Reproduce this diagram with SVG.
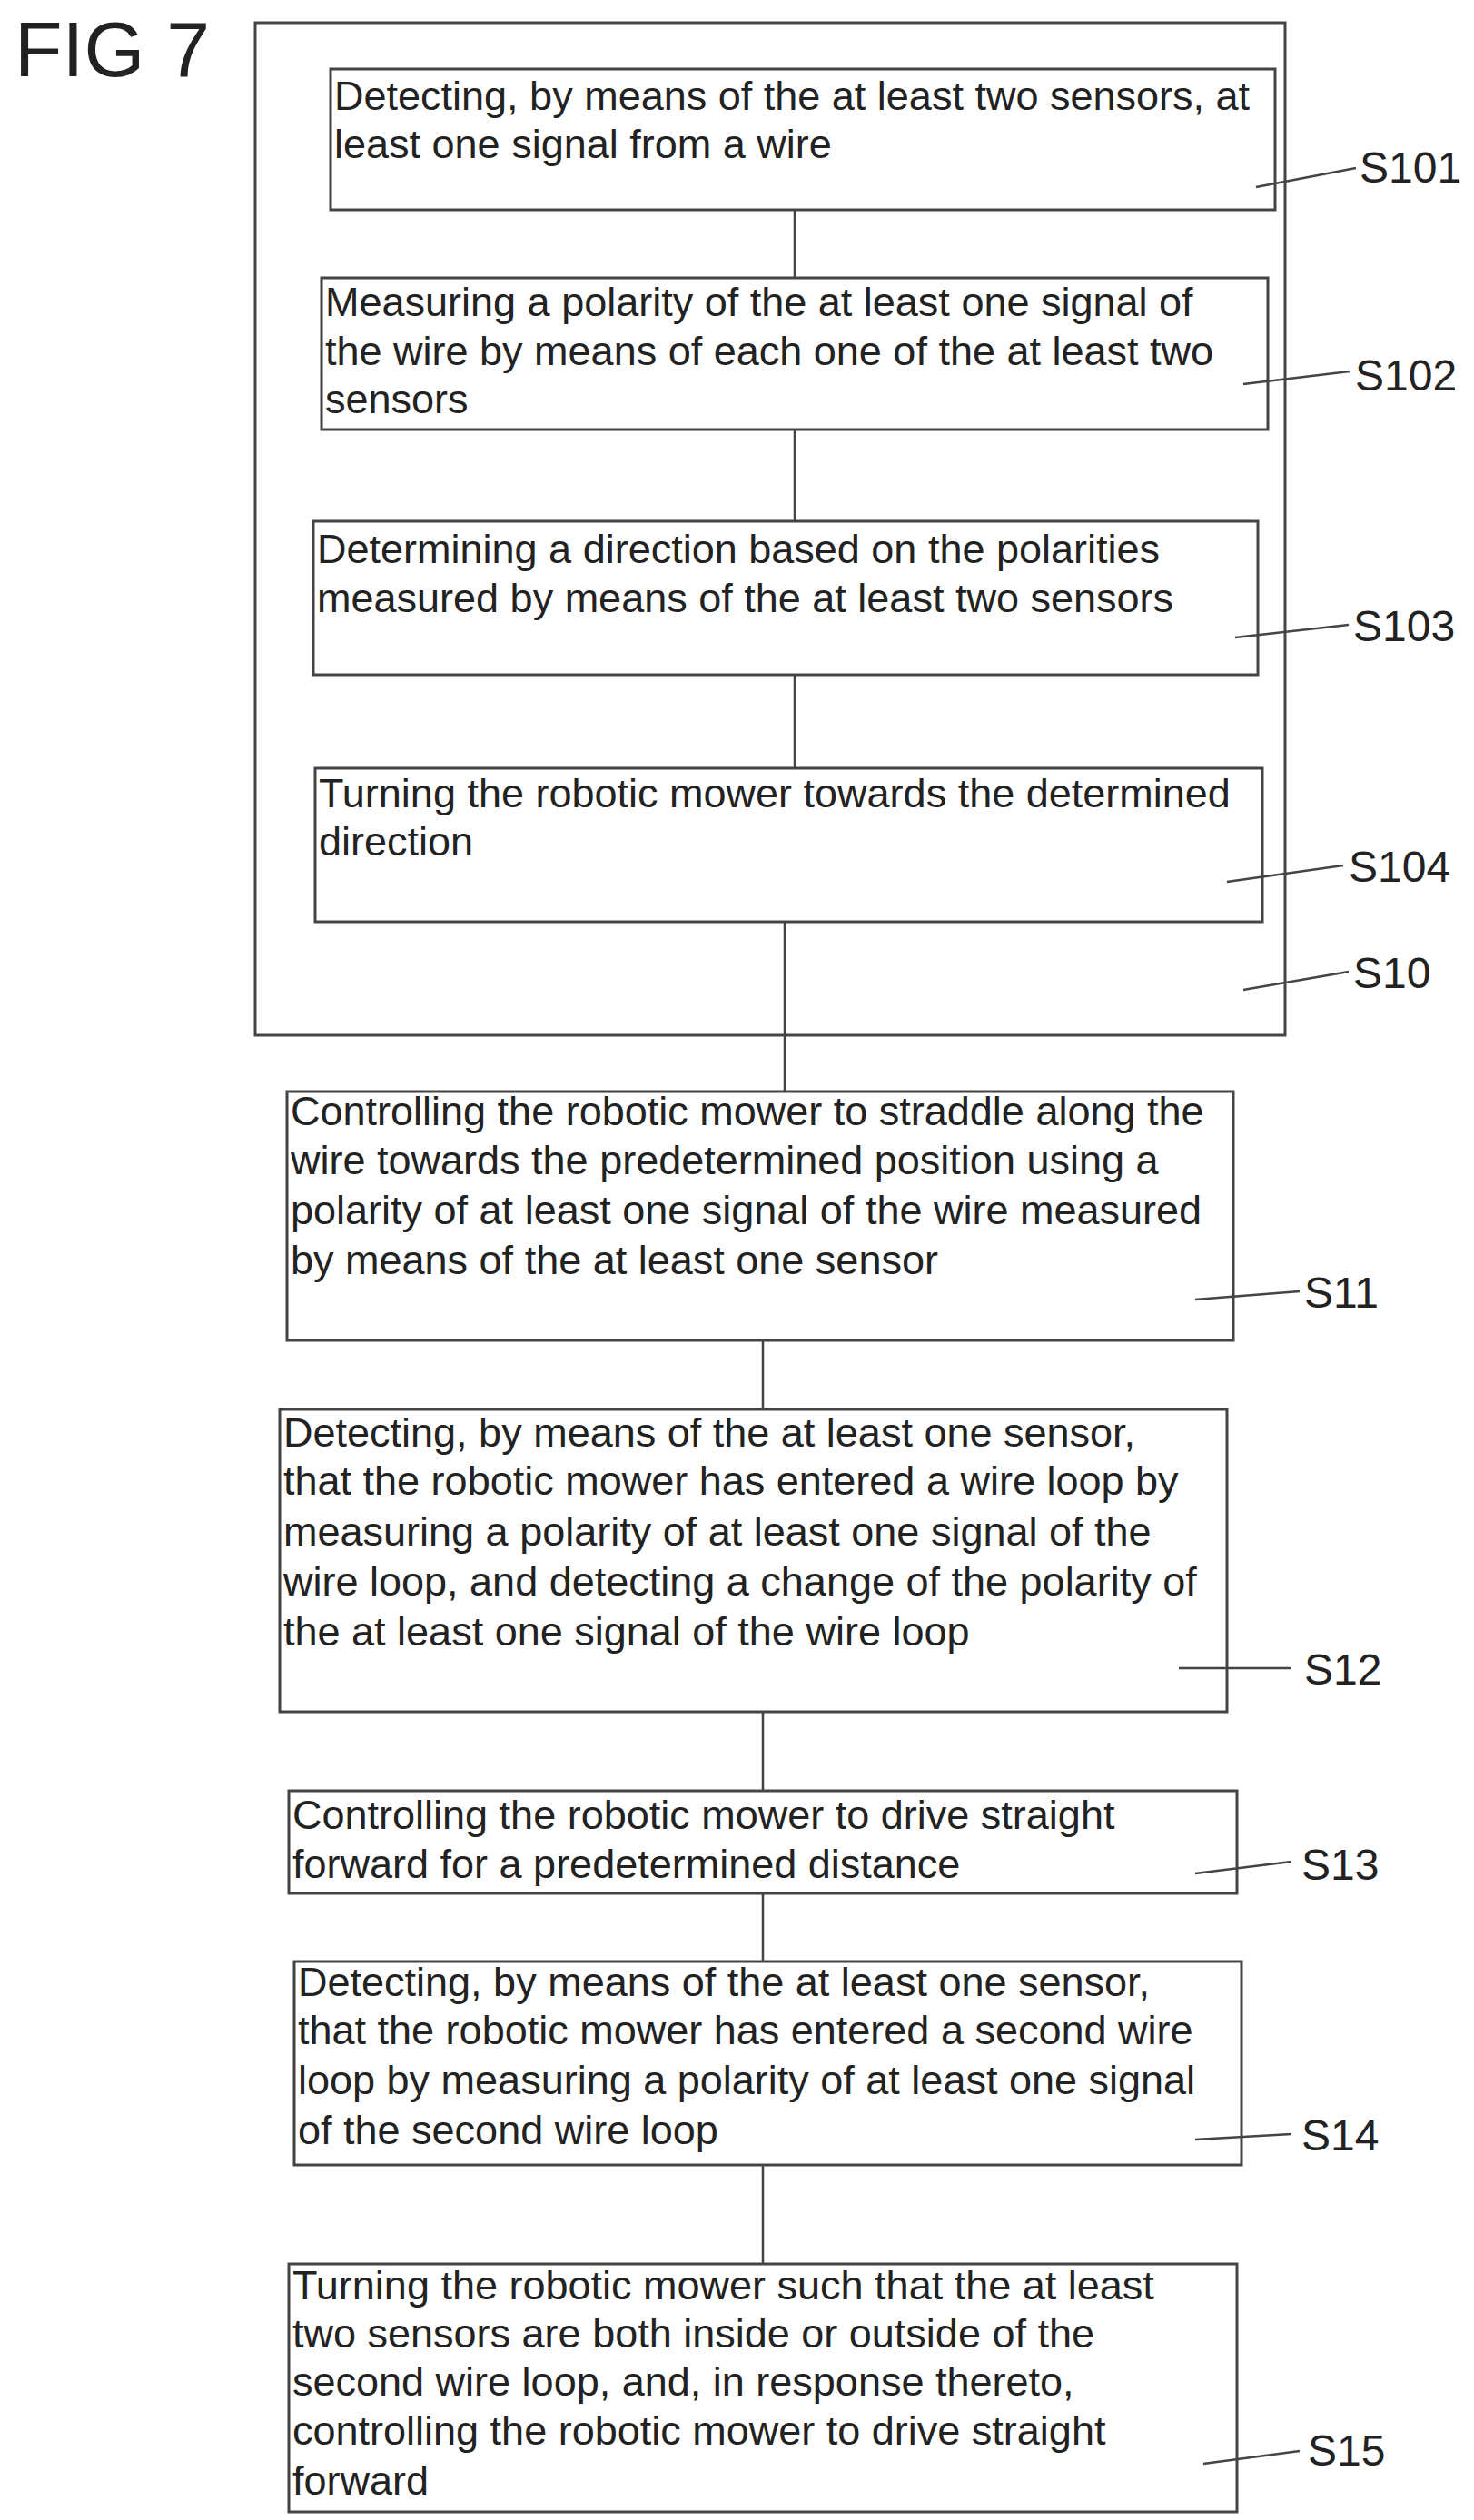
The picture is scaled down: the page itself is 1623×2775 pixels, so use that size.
<svg xmlns="http://www.w3.org/2000/svg" width="1623" height="2775" viewBox="0 0 1623 2775">
<style>
rect{fill:none;stroke:#444;stroke-width:3}
line{stroke:#444;stroke-width:2.5}
.t{font-family:"Liberation Sans",Arial,sans-serif;font-size:45px;fill:#222}
.l{font-family:"Liberation Sans",Arial,sans-serif;font-size:48px;fill:#222}
</style>
<rect width="1623" height="2775" fill="#fff" style="stroke:none;fill:#fff"/>
<text x="16" y="84" style="font-family:'Liberation Sans',Arial,sans-serif;font-size:86px;fill:#222">FIG 7</text>
<g id="S10"><rect x="281" y="25" width="1134" height="1115"/><text class="l" x="1490" y="1088">S10</text><line x1="1369" y1="1090" x2="1485" y2="1070"/></g>
<g id="S101"><rect x="364" y="76" width="1040" height="155"/>
<text class="t" x="368" y="121">Detecting, by means of the at least two sensors, at</text>
<text class="t" x="368" y="174">least one signal from a wire</text>
<text class="l" x="1497" y="201">S101</text><line x1="1383" y1="206" x2="1493" y2="185"/></g>
<g id="S102"><rect x="354" y="306" width="1042" height="167"/>
<text class="t" x="358" y="348">Measuring a polarity of the at least one signal of</text>
<text class="t" x="358" y="402">the wire by means of each one of the at least two</text>
<text class="t" x="358" y="455">sensors</text>
<text class="l" x="1492" y="430">S102</text><line x1="1369" y1="423" x2="1486" y2="409"/></g>
<g id="S103"><rect x="345" y="574" width="1040" height="169"/>
<text class="t" x="349" y="620">Determining a direction based on the polarities</text>
<text class="t" x="349" y="674">measured by means of the at least two sensors</text>
<text class="l" x="1490" y="706">S103</text><line x1="1360" y1="702" x2="1485" y2="688"/></g>
<g id="S104"><rect x="347" y="846" width="1043" height="169"/>
<text class="t" x="351" y="889">Turning the robotic mower towards the determined</text>
<text class="t" x="351" y="942">direction</text>
<text class="l" x="1485" y="971">S104</text><line x1="1351" y1="971" x2="1479" y2="953"/></g>
<g id="S11"><rect x="316" y="1202" width="1042" height="274"/>
<text class="t" x="320" y="1239">Controlling the robotic mower to straddle along the</text>
<text class="t" x="320" y="1293">wire towards the predetermined position using a</text>
<text class="t" x="320" y="1348">polarity of at least one signal of the wire measured</text>
<text class="t" x="320" y="1403">by means of the at least one sensor</text>
<text class="l" x="1436" y="1440">S11</text><line x1="1316" y1="1431" x2="1431" y2="1422"/></g>
<g id="S12"><rect x="308" y="1552" width="1043" height="333"/>
<text class="t" x="312" y="1593">Detecting, by means of the at least one sensor,</text>
<text class="t" x="312" y="1646">that the robotic mower has entered a wire loop by</text>
<text class="t" x="312" y="1702">measuring a polarity of at least one signal of the</text>
<text class="t" x="312" y="1757">wire loop, and detecting a change of the polarity of</text>
<text class="t" x="312" y="1812">the at least one signal of the wire loop</text>
<text class="l" x="1436" y="1855">S12</text><line x1="1298" y1="1837" x2="1422" y2="1837"/></g>
<g id="S13"><rect x="318" y="1972" width="1044" height="113"/>
<text class="t" x="322" y="2014">Controlling the robotic mower to drive straight</text>
<text class="t" x="322" y="2068">forward for a predetermined distance</text>
<text class="l" x="1433" y="2070">S13</text><line x1="1316" y1="2063" x2="1422" y2="2050"/></g>
<g id="S14"><rect x="324" y="2160" width="1043" height="224"/>
<text class="t" x="328" y="2198">Detecting, by means of the at least one sensor,</text>
<text class="t" x="328" y="2251">that the robotic mower has entered a second wire</text>
<text class="t" x="328" y="2306">loop by measuring a polarity of at least one signal</text>
<text class="t" x="328" y="2361">of the second wire loop</text>
<text class="l" x="1433" y="2368">S14</text><line x1="1316" y1="2356" x2="1422" y2="2350"/></g>
<g id="S15"><rect x="318" y="2493" width="1044" height="273"/>
<text class="t" x="322" y="2532">Turning the robotic mower such that the at least</text>
<text class="t" x="322" y="2585">two sensors are both inside or outside of the</text>
<text class="t" x="322" y="2638">second wire loop, and, in response thereto,</text>
<text class="t" x="322" y="2692">controlling the robotic mower to drive straight</text>
<text class="t" x="322" y="2747">forward</text>
<text class="l" x="1440" y="2715">S15</text><line x1="1325" y1="2713" x2="1431" y2="2699"/></g>
<g id="connectors">
<line x1="875" y1="231" x2="875" y2="306"/>
<line x1="875" y1="473" x2="875" y2="574"/>
<line x1="875" y1="743" x2="875" y2="846"/>
<line x1="864" y1="1015" x2="864" y2="1202"/>
<line x1="840" y1="1476" x2="840" y2="1552"/>
<line x1="840" y1="1885" x2="840" y2="1972"/>
<line x1="840" y1="2085" x2="840" y2="2160"/>
<line x1="840" y1="2384" x2="840" y2="2493"/>
</g>
</svg>
